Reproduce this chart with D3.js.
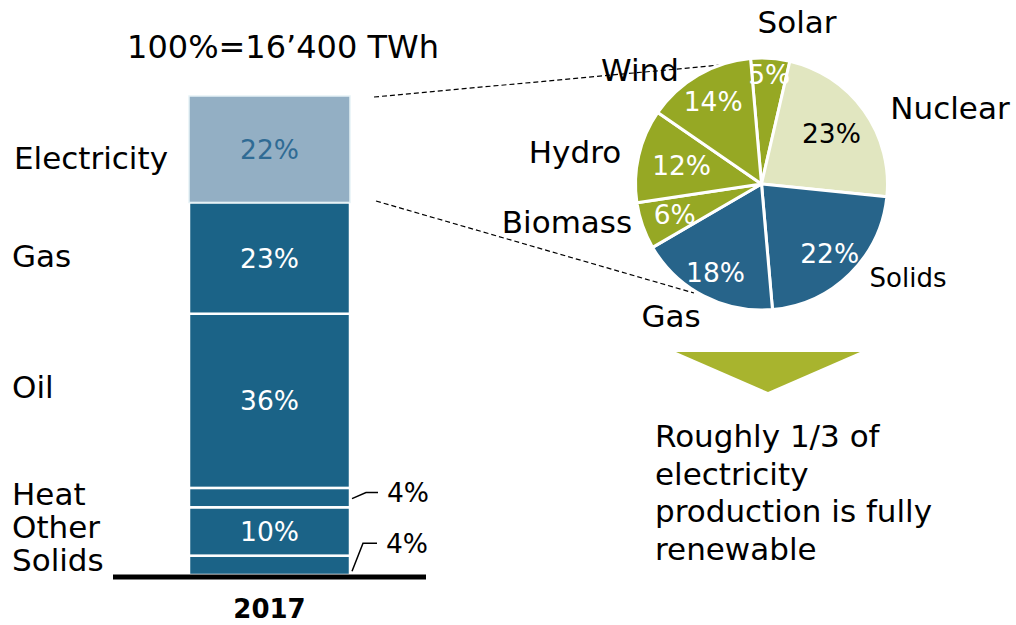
<!DOCTYPE html>
<html>
<head>
<meta charset="utf-8">
<title>Energy 2017</title>
<script src="https://cdnjs.cloudflare.com/ajax/libs/d3/7.8.5/d3.min.js"></script>
<style>
body { margin: 0; background: #fff; }
svg { font-family: "DejaVu Sans", Verdana, sans-serif; }
</style>
</head>
<body>
<svg id="chart" width="1016" height="625"></svg>
<script>
// stacked bar, bottom to top
var barCats = ["Solids", "Other", "Heat", "Oil", "Gas", "Electricity"];
var barVals = [4, 10, 4, 36, 23, 22];
var barYear = "2017";
var totalText = "100%=16\u2019400 TWh";

// electricity pie, clockwise from top
var pieCats = ["Solar", "Nuclear", "Solids", "Gas", "Biomass", "Hydro", "Wind"];
var pieVals = [5, 23, 22, 18, 6, 12, 14];

var noteLines = ["Roughly 1/3 of", "electricity", "production is fully", "renewable"];

var dark = "#1b6387", light = "#93afc4", green = "#96a824", pale = "#e1e6c0", pieBlue = "#27648a";
var big = 31, small = 26.5;

var svg = d3.select("#chart");

// ---- bar ----
var total = d3.sum(barVals);
var y = d3.scaleLinear().domain([0, total]).range([575, 96]);
var x = d3.scaleBand().domain([barYear]).range([113, 426]).paddingInner(0).paddingOuter(0.472);

var stack = [], acc = 0;
barVals.forEach(function(v, i) {
  stack.push({cat: barCats[i], v: v, y0: acc, y1: acc + v});
  acc += v;
});

var g = svg.append("g");
g.selectAll("rect.seg")
  .data(stack)
  .enter().append("rect")
    .attr("class", "seg")
    .attr("x", x(barYear))
    .attr("width", x.bandwidth())
    .attr("y", function(d) { return y(d.y1); })
    .attr("height", function(d) { return y(d.y0) - y(d.y1); })
    .attr("fill", function(d) { return d.cat == "Electricity" ? light : dark; })
    .attr("stroke", function(d) { return d.cat == "Electricity" ? "#e6f2f6" : "#fff"; })
    .attr("stroke-width", function(d) { return d.cat == "Electricity" ? 1.5 : 2.5; });

// inside labels for large segments
g.selectAll("text.in")
  .data(stack.filter(function(d) { return d.v >= 10; }))
  .enter().append("text")
    .attr("class", "in")
    .attr("x", x(barYear) + x.bandwidth() / 2)
    .attr("y", function(d) { return (y(d.y0) + y(d.y1)) / 2; })
    .attr("dy", "0.36em")
    .attr("text-anchor", "middle")
    .attr("font-size", small)
    .attr("fill", function(d) { return d.cat == "Electricity" ? "#2f6b94" : "#fff"; })
    .text(function(d) { return d.v + "%"; });

// outside labels for small segments
var right = x(barYear) + x.bandwidth();
var heat = stack[2], sol = stack[0];
var hy = (y(heat.y0) + y(heat.y1)) / 2;
g.append("path")
  .attr("d", "M" + (right + 2) + "," + (hy + 1) + "L" + (right + 16) + "," + (hy - 5) + "L" + (right + 28) + "," + (hy - 5))
  .attr("fill", "none").attr("stroke", "#000").attr("stroke-width", 1.5);
g.append("text").attr("x", right + 37).attr("y", hy - 5).attr("dy", "0.36em")
  .attr("font-size", small).text(heat.v + "%");
var sy = (y(sol.y0) + y(sol.y1)) / 2;
g.append("path")
  .attr("d", "M" + (right + 2) + "," + (sy + 6) + "L" + (right + 13) + "," + (sy - 22) + "L" + (right + 27) + "," + (sy - 22))
  .attr("fill", "none").attr("stroke", "#000").attr("stroke-width", 1.5);
g.append("text").attr("x", right + 36).attr("y", sy - 22).attr("dy", "0.36em")
  .attr("font-size", small).text(sol.v + "%");

// category labels on the left
var leftPos = {"Electricity": [14, 158], "Gas": [12, 256], "Oil": [12, 387], "Heat": [12, 494], "Other": [12, 527], "Solids": [12, 560]};
g.selectAll("text.cat")
  .data(stack)
  .enter().append("text")
    .attr("class", "cat")
    .attr("x", function(d) { return leftPos[d.cat][0]; })
    .attr("y", function(d) { return leftPos[d.cat][1]; })
    .attr("dy", "0.36em")
    .attr("font-size", big)
    .text(function(d) { return d.cat; });

// baseline + year
g.append("line").attr("x1", 113).attr("x2", 426).attr("y1", y(0) + 2).attr("y2", y(0) + 2)
  .attr("stroke", "#000").attr("stroke-width", 5);
g.append("text").attr("x", x(barYear) + x.bandwidth() / 2).attr("y", 609).attr("dy", "0.36em")
  .attr("text-anchor", "middle").attr("font-size", 26).attr("font-weight", "bold").text(barYear);
g.append("text").attr("x", 283).attr("y", 46).attr("dy", "0.36em")
  .attr("text-anchor", "middle").attr("font-size", 32).text(totalText);

// ---- dashed connectors ----
svg.append("line").attr("x1", 374).attr("y1", 97).attr("x2", 742).attr("y2", 63)
  .attr("stroke", "#000").attr("stroke-width", 1.2).attr("stroke-dasharray", "5,3");
svg.append("line").attr("x1", 376).attr("y1", 201).attr("x2", 694).attr("y2", 293)
  .attr("stroke", "#000").attr("stroke-width", 1.2).attr("stroke-dasharray", "5,3");

// ---- pie ----
var cx = 761.5, cy = 184, R = 126;
var startA = -5 * Math.PI / 180;
var pie = d3.pie().sort(null).startAngle(startA).endAngle(startA + 2 * Math.PI);
var arcs = pie(pieVals);
var arc = d3.arc().innerRadius(0).outerRadius(R);
var pg = svg.append("g").attr("transform", "translate(" + cx + "," + cy + ")");

function sliceColor(i) {
  var c = pieCats[i];
  if (c == "Nuclear") return pale;
  if (c == "Solids" || c == "Gas") return pieBlue;
  return green;
}

pg.selectAll("path")
  .data(arcs)
  .enter().append("path")
    .attr("d", arc)
    .attr("fill", function(d, i) { return sliceColor(i); })
    .attr("stroke", "#fff")
    .attr("stroke-width", 3)
    .attr("stroke-linejoin", "round");

// distance of each percentage label from the centre
var labR = {"Solar": 110, "Nuclear": 86, "Solids": 97, "Gas": 100, "Biomass": 92, "Hydro": 82, "Wind": 96};
pg.selectAll("text.pct")
  .data(arcs)
  .enter().append("text")
    .attr("class", "pct")
    .attr("transform", function(d, i) {
      var r = labR[pieCats[i]];
      var a = (d.startAngle + d.endAngle) / 2;
      return "translate(" + (r * Math.sin(a)) + "," + (-r * Math.cos(a)) + ")";
    })
    .attr("dy", "0.36em")
    .attr("text-anchor", "middle")
    .attr("font-size", small)
    .attr("fill", function(d, i) { return pieCats[i] == "Nuclear" ? "#000" : "#fff"; })
    .text(function(d) { return d.data + "%"; });

var pieLab = {
  "Solar": [797, 22, big], "Nuclear": [950, 108, big],
  "Solids": [908, 278, 26], "Gas": [671, 316, big],
  "Biomass": [567, 222, big], "Hydro": [575, 152, big],
  "Wind": [640, 70, big]
};
svg.selectAll("text.plab")
  .data(pieCats)
  .enter().append("text")
    .attr("class", "plab")
    .attr("x", function(d) { return pieLab[d][0]; })
    .attr("y", function(d) { return pieLab[d][1]; })
    .attr("dy", "0.36em")
    .attr("font-size", function(d) { return pieLab[d][2]; })
    .attr("text-anchor", "middle")
    .text(function(d) { return d; });

// ---- arrow + note ----
svg.append("path").attr("d", "M676,352L860,352L768,392Z").attr("fill", "#a8b42e");
svg.selectAll("text.note")
  .data(noteLines)
  .enter().append("text")
    .attr("class", "note")
    .attr("x", 655)
    .attr("y", function(d, i) { return 436 + i * 37.5; })
    .attr("dy", "0.36em")
    .attr("font-size", big)
    .text(function(d) { return d; });
</script>
</body>
</html>
